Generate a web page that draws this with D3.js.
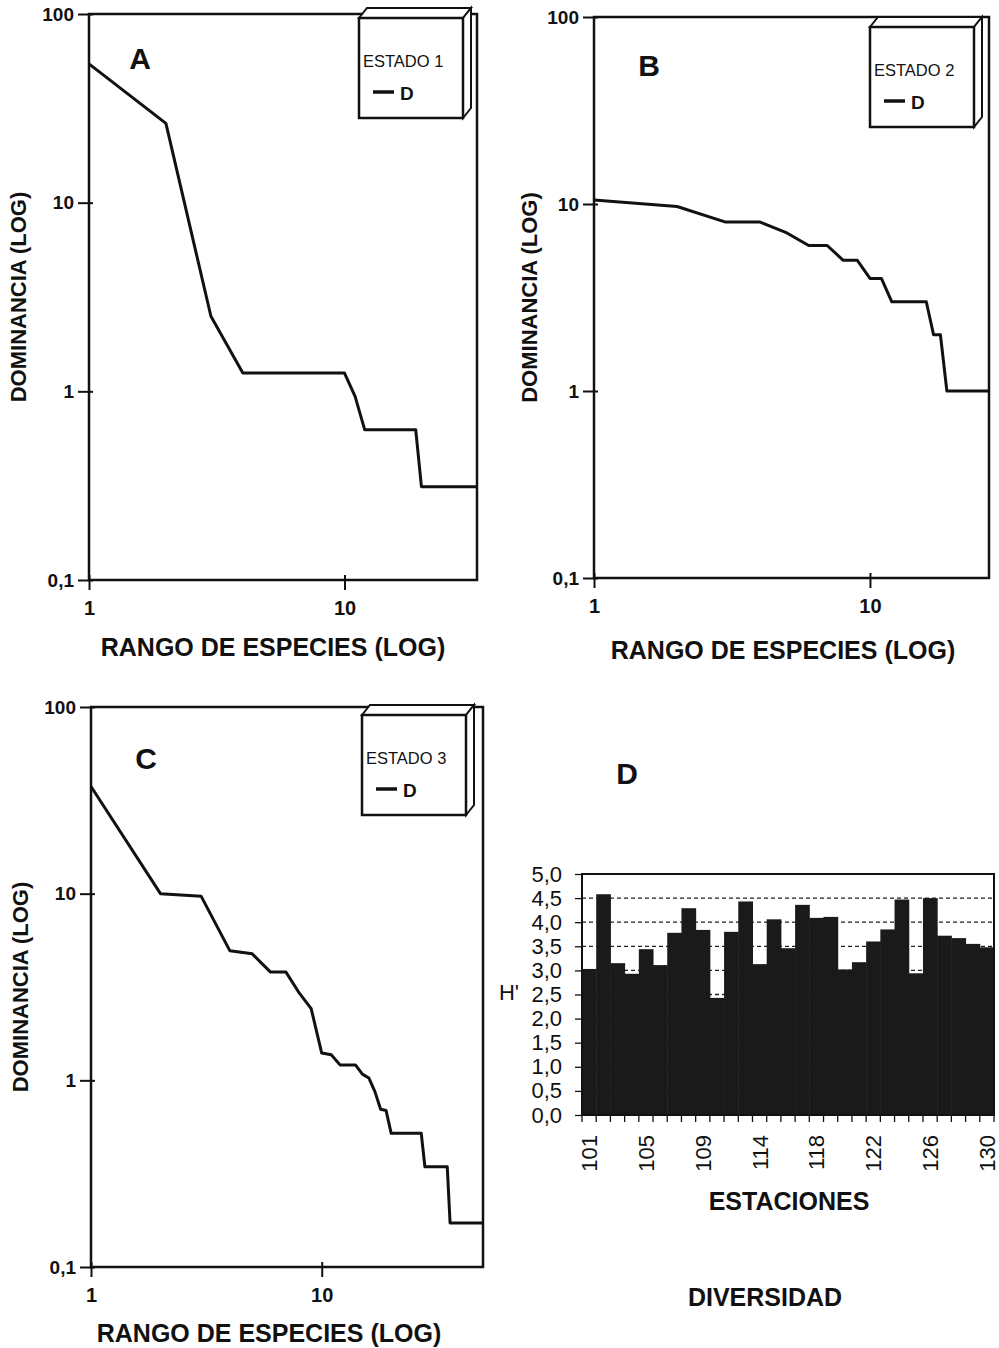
<!DOCTYPE html>
<html>
<head>
<meta charset="utf-8">
<script src="https://cdn.jsdelivr.net/npm/d3@7"></script>
<style>
  body { margin: 0; background: #fff; }
  svg text { font-family: "Liberation Sans", Arial, sans-serif; fill: #111; }
</style>
</head>
<body>
<svg id="chart" width="999" height="1348"></svg>
<script>
// dominancia (%) por rango de especie, rango = indice + 1
var domA = [54.4, 26.3, 2.5, 1.25, 1.25, 1.25, 1.25, 1.25, 1.25, 1.25, 0.94,
  0.625, 0.625, 0.625, 0.625, 0.625, 0.625, 0.625, 0.625,
  0.3125, 0.3125, 0.3125, 0.3125, 0.3125, 0.3125, 0.3125, 0.3125, 0.3125,
  0.3125, 0.3125, 0.3125, 0.3125, 0.3125];
var domB = [10.5, 9.7, 8, 8, 7, 6, 6, 5, 5, 4, 4, 3, 3, 3, 3, 3, 2, 2,
  1, 1, 1, 1, 1, 1, 1, 1, 1];
var domC = [37.5, 10, 9.7, 4.94, 4.76, 3.8, 3.8, 2.93, 2.42, 1.4, 1.37, 1.21,
  1.21, 1.21, 1.08, 1.03, 0.87, 0.70, 0.69,
  0.52, 0.52, 0.52, 0.52, 0.52, 0.52, 0.52, 0.52,
  0.344, 0.344, 0.344, 0.344, 0.344, 0.344, 0.344, 0.344,
  0.172, 0.172, 0.172, 0.172, 0.172, 0.172, 0.172, 0.172, 0.172, 0.172,
  0.172, 0.172, 0.172, 0.172, 0.172];
var logTicks = [0.1, 1, 10, 100];
var rankTicks = [1, 10];

// diversidad H' por estacion
var stations = [101, 102, 103, 104, 105, 106, 107, 108, 109, 110, 111, 113, 114,
  115, 116, 117, 118, 119, 120, 121, 122, 123, 124, 125, 126, 127, 128, 129, 130];
var diversity = [3.03, 4.58, 3.15, 2.93, 3.44, 3.11, 3.78, 4.29, 3.84, 2.43, 3.80,
  4.43, 3.13, 4.06, 3.46, 4.36, 4.09, 4.11, 3.02, 3.17, 3.60, 3.85, 4.47, 2.94,
  4.50, 3.72, 3.67, 3.55, 3.48];
var hTicks = [0, 0.5, 1, 1.5, 2, 2.5, 3, 3.5, 4, 4.5, 5];
var stationLabels = [101, 105, 109, 114, 118, 122, 126, 130];

var svg = d3.select("#chart");
var fmt = function(d) { return d3.format(".1f")(d).replace(".", ","); };

function drawPanel(p) {
  var g = svg.append("g");
  var x = d3.scaleLog().domain([1, p.data.length]).range([p.left, p.right]);
  var y = d3.scaleLog().domain([0.1, 100]).range([p.bottom, p.top]);

  // marco
  g.append("rect").attr("x", p.left).attr("y", p.top)
    .attr("width", p.right - p.left).attr("height", p.bottom - p.top)
    .attr("fill", "none").attr("stroke", "#111").attr("stroke-width", 2.5);

  var ya = g.append("g").attr("transform", "translate(" + p.left + ",0)")
    .call(d3.axisLeft(y).tickValues(logTicks).tickSize(6)
      .tickFormat(function(d) { return d === 0.1 ? "0,1" : d; }));
  ya.select(".domain").remove();
  ya.selectAll(".tick line").attr("x1", -11).attr("x2", 4).attr("stroke", "#111").attr("stroke-width", 2);
  ya.selectAll("text").attr("x", -15).style("font-size", "19px").style("font-weight", "bold");

  var xa = g.append("g").attr("transform", "translate(0," + p.bottom + ")")
    .call(d3.axisBottom(x).tickValues(rankTicks).tickSize(8).tickFormat(d3.format("d")));
  xa.select(".domain").remove();
  xa.selectAll(".tick line").attr("y1", -5).attr("y2", 10).attr("stroke", "#111").attr("stroke-width", 2);
  xa.selectAll("text").attr("y", 21).style("font-size", "20px").style("font-weight", "bold");

  var line = d3.line()
    .x(function(d, i) { return x(i + 1); })
    .y(function(d) { return y(d); });
  g.append("path").datum(p.data).attr("d", line)
    .attr("fill", "none").attr("stroke", "#111").attr("stroke-width", 3)
    .attr("stroke-linejoin", "round");

  g.append("text").attr("x", p.letterX).attr("y", p.letterY)
    .attr("text-anchor", "middle").style("font-size", "30px").style("font-weight", "bold")
    .text(p.letter);

  g.append("text")
    .attr("transform", "translate(" + p.ylabX + "," + ((p.top + p.bottom) / 2) + ") rotate(-90)")
    .attr("text-anchor", "middle").style("font-size", "22px").style("font-weight", "bold")
    .text("DOMINANCIA (LOG)");
  g.append("text").attr("x", p.xlabX).attr("y", p.xlabY)
    .attr("text-anchor", "middle").style("font-size", "25px").style("font-weight", "bold")
    .text("RANGO DE ESPECIES (LOG)");

  // leyenda con caja en relieve
  var lx = p.legX, ly = p.legY, lw = 104, lh = 100, dx = 8, dy = 10;
  var leg = g.append("g");
  leg.append("polygon")
    .attr("points", [[lx, ly], [lx + dx, ly - dy], [lx + lw + dx, ly - dy], [lx + lw, ly]].join(" "))
    .attr("fill", "#fff").attr("stroke", "#111").attr("stroke-width", 2);
  leg.append("polygon")
    .attr("points", [[lx + lw, ly], [lx + lw + dx, ly - dy], [lx + lw + dx, ly + lh - dy], [lx + lw, ly + lh]].join(" "))
    .attr("fill", "#fff").attr("stroke", "#111").attr("stroke-width", 2);
  leg.append("rect").attr("x", lx).attr("y", ly).attr("width", lw).attr("height", lh)
    .attr("fill", "#fff").attr("stroke", "#111").attr("stroke-width", 2.5);
  leg.append("text").attr("x", lx + 4).attr("y", ly + 49)
    .style("font-size", "16.5px").text(p.legend);
  leg.append("line").attr("x1", lx + 14).attr("x2", lx + 35)
    .attr("y1", ly + 74).attr("y2", ly + 74).attr("stroke", "#111").attr("stroke-width", 3.5);
  leg.append("text").attr("x", lx + 41).attr("y", ly + 82)
    .style("font-size", "19px").style("font-weight", "bold").text("D");
}

drawPanel({ data: domA, left: 89, right: 477, top: 14, bottom: 580, letter: "A",
  letterX: 140, letterY: 69, ylabX: 26, xlabX: 273, xlabY: 656,
  legX: 359, legY: 18, legend: "ESTADO 1" });
drawPanel({ data: domB, left: 594, right: 989, top: 17, bottom: 578, letter: "B",
  letterX: 649, letterY: 76, ylabX: 537, xlabX: 783, xlabY: 659,
  legX: 870, legY: 27, legend: "ESTADO 2" });
drawPanel({ data: domC, left: 91, right: 483, top: 707, bottom: 1267, letter: "C",
  letterX: 146, letterY: 769, ylabX: 28, xlabX: 269, xlabY: 1342,
  legX: 362, legY: 715, legend: "ESTADO 3" });

// panel D: barras de diversidad
(function() {
  var left = 582, right = 994, top = 874, bottom = 1115;
  var g = svg.append("g");
  var x = d3.scaleBand().domain(stations).range([left, right]).padding(0);
  var y = d3.scaleLinear().domain([0, 5]).range([bottom, top]);

  g.selectAll(".grid").data(hTicks.filter(function(d) { return d > 0 && d < 5; }))
    .enter().append("line").attr("class", "grid")
    .attr("x1", left).attr("x2", right)
    .attr("y1", function(d) { return y(d); }).attr("y2", function(d) { return y(d); })
    .attr("stroke", "#222").attr("stroke-width", 1.3).attr("stroke-dasharray", "4,3");

  g.selectAll(".bar").data(diversity).enter().append("rect").attr("class", "bar")
    .attr("x", function(d, i) { return x(stations[i]); })
    .attr("width", x.bandwidth() + 0.5)
    .attr("y", function(d) { return y(d); })
    .attr("height", function(d) { return bottom - y(d); })
    .attr("fill", "#1a1a1a");

  g.append("rect").attr("x", left).attr("y", top).attr("width", right - left)
    .attr("height", bottom - top).attr("fill", "none").attr("stroke", "#111").attr("stroke-width", 2);

  var ya = g.append("g").attr("transform", "translate(" + left + ",0)")
    .call(d3.axisLeft(y).tickValues(hTicks).tickSize(7).tickFormat(fmt));
  ya.select(".domain").remove();
  ya.selectAll(".tick line").attr("stroke", "#111").attr("stroke-width", 1.3);
  ya.selectAll("text").attr("x", -20).style("font-size", "22px");

  // marcas en los limites de cada barra
  var edges = stations.map(function(s) { return x(s); }).concat([right]);
  g.selectAll(".edge").data(edges).enter().append("line").attr("class", "edge")
    .attr("x1", function(d) { return d; }).attr("x2", function(d) { return d; })
    .attr("y1", bottom).attr("y2", bottom + 7).attr("stroke", "#111").attr("stroke-width", 1.3);

  g.selectAll(".xl").data(stationLabels).enter().append("text").attr("class", "xl")
    .attr("transform", function(d) {
      return "translate(" + (x(d) + x.bandwidth() / 2 + 8) + "," + (bottom + 20) + ") rotate(-90)";
    })
    .attr("text-anchor", "end").style("font-size", "22px").text(function(d) { return d; });

  g.append("text").attr("x", 509).attr("y", 1000).attr("text-anchor", "middle")
    .style("font-size", "22px").text("H'");
  g.append("text").attr("x", 789).attr("y", 1210).attr("text-anchor", "middle")
    .style("font-size", "25px").style("font-weight", "bold").text("ESTACIONES");
  g.append("text").attr("x", 627).attr("y", 784).attr("text-anchor", "middle")
    .style("font-size", "30px").style("font-weight", "bold").text("D");
  g.append("text").attr("x", 765).attr("y", 1306).attr("text-anchor", "middle")
    .style("font-size", "25px").style("font-weight", "bold").text("DIVERSIDAD");
})();
</script>
</body>
</html>
